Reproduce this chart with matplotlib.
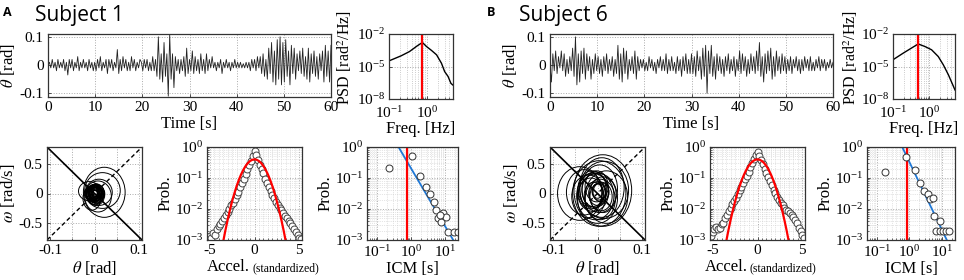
import numpy as np
import matplotlib
matplotlib.use("Agg")
import matplotlib.pyplot as plt
from matplotlib.patches import Ellipse
from matplotlib.ticker import FixedLocator, MultipleLocator, LogLocator, NullLocator, NullFormatter

plt.rcParams['font.family'] = ['Liberation Serif', 'DejaVu Serif']
plt.rcParams['mathtext.fontset'] = 'stix'
plt.rcParams['axes.unicode_minus'] = False

# ---------------- data ----------------
# sway angle, centi-radians, one value every 0.3 s
theta_s1 = [0, 1, -1, 2, -1, 1, -2, 2, -1, 1, -1, 2, -2, 1, -3.5, 2, -1, 2, -2, 1, -1, 3, -2, 1, -1, 2, -1, 1, -2, 2, -1, 1, -2,
            1, -2, 2, -1, 3, -2, 1, -1, 2, -3, 2, -1, 2, -2, 1, -1, 5.5, -3, 2, -2, 3, -1, 2, -2, 1, -2, 3, -1, 2, -2, 1, -1, 2,
            1, -2, 2, -1, 2, -2, 1, -2, 3, -2, 2, -4, 10, -5, 4, -6, 8, -4, 4, -11, 11, -5, 4, -8, 3, -2, 2, -3, 2, -2, 3, -4, 6, -3,
            2, -2, 5, -3, 3, -2, 2, -3, 4, -2, 2, -3, 4, -2, 2, -1, 3, -1, 1, -2, 1, -1, 2, -3, 1, -1, 2, -1, 1, -2, 1, -1, 2,
            -1, 1, -1, 1, -1, 0.5, -1, 1, -1, 1, -2, 2, -1, 2, -2, 3, -1, 3, -3, 4, -4, 2, -5, 6, -3, 8, -6, 5, -7, 9, -5, 10, -7, 8,
            -6, 9, -4, 5, -7, 7, -3, 6, -5, 4, -2, 5, -3, 6, -4, 3, -5, 6, -6, 4, -3, 5, -4, 3, -5, 4, -2, 5, -6, 7, -4, 5, -6, 7]
theta_s6 = [0, -6, 4, -2, 5, -3, 3, -1, 5, -2, 4, -4, 2, -3, 3, -2, 6, -4, 10, -7, 4, -6, 5, -3, 6, -5, 4, -2, 3, -5, 2, -3, 4,
            -2, 3, -3, 2, -4, 3, -2, 4, -3, 2, -2, 3, -4, 2, -3, 7, -5, 4, -6, 6, -3, 5, -5, 2, -2, 3, -3, 5, -5, 3, -2, 2, -1,
            2, -2, 1, -2, 3, -1, 2, -2, 1, -3, 2, -1, 3, -2, 2, -2, 4, -3, 2, -2, 3, -2, 1, -3, 3, -2, 2, -4, 3, -2, 4, -3, 2, -3,
            4, -3, 3, -4, 5, -2, 3, -5, 6, -4, 7, -10, 5, -3, 7, -4, 3, -5, 4, -2, 3, -3, 2, -4, 3, -2, 4, -3, 2, -2, 3, -4, 2,
            -2, 5, -3, 4, -2, 3, -4, 2, -3, 4, -2, 3, -3, 5, -2, 8, -4, 3, -6, 4, -3, 5, -2, 6, -5, 3, -4, 5, -2, 3, -3, 4, -2, 3,
            -3, 2, -2, 3, -3, 2, -1, 3, -2, 2, -3, 2, -2, 3, -1, 2, -2, 3, -2, 1, -2, 2, -1, 3, -2, 2, -1, 2, -2, 1, -1, 2, -1, 1]
dt = 0.3

# power spectral density
psd_f_s1 = [0.1, 0.21, 0.35, 0.56, 0.77, 0.99, 1.35, 1.83, 2.47, 3.0, 3.7, 4.4, 4.9]
psd_p_s1 = [3.3e-5, 9.7e-5, 2.4e-4, 8e-4, 1.65e-3, 7e-4, 3e-4, 1.2e-4, 2e-5, 3.4e-6, 1.2e-6, 2.8e-7, 2e-7]
psd_f_s6 = [0.1, 0.19, 0.32, 0.49, 0.75, 1.14, 1.74, 2.4, 3.3, 4.35, 5.0]
psd_p_s6 = [4.2e-5, 1.7e-4, 5e-4, 1.2e-3, 7e-4, 3.5e-4, 8.3e-5, 1.4e-5, 1.7e-6, 2e-7, 6.8e-8]
peak_f_s1 = 0.77
peak_f_s6 = 0.49

# phase portrait loops: centre (theta, omega) and half-axes
pp_tc_s1 = [0.000, 0.002, -0.002, 0.004, 0.000, -0.004, 0.003, 0.001, -0.001, 0.005, 0.000, 0.002,
            -0.003, 0.001, 0.006, -0.001, 0.004, 0.010, 0.018, 0.022, -0.012, -0.006, 0.008,
            0.001, -0.002, 0.003, 0.000, 0.002, -0.001, 0.004, 0.000]
pp_wc_s1 = [0.00, 0.01, -0.01, 0.00, 0.02, 0.00, -0.02, 0.00, 0.01, 0.01, -0.01, 0.00,
            0.02, -0.02, 0.03, 0.00, -0.03, 0.02, 0.05, 0.02, 0.04, -0.08, -0.05,
            0.00, 0.02, -0.01, 0.01, -0.02, 0.00, 0.01, -0.01]
pp_tr_s1 = [0.012, 0.016, 0.010, 0.018, 0.014, 0.015, 0.020, 0.008, 0.011, 0.013, 0.017, 0.021,
            0.009, 0.019, 0.012, 0.022, 0.016, 0.030, 0.040, 0.047, 0.024, 0.020, 0.030,
            0.006, 0.009, 0.013, 0.015, 0.011, 0.017, 0.007, 0.019]
pp_wr_s1 = [0.10, 0.14, 0.08, 0.16, 0.12, 0.11, 0.18, 0.06, 0.13, 0.09, 0.12, 0.15,
            0.10, 0.17, 0.08, 0.13, 0.14, 0.22, 0.30, 0.42, 0.16, 0.20, 0.26,
            0.05, 0.09, 0.11, 0.13, 0.07, 0.15, 0.10, 0.12]
pp_tc_s6 = [0.000, -0.005, 0.008, -0.010, 0.005, 0.012, -0.015, 0.000, 0.010, -0.020, 0.003, -0.008,
            0.015, -0.030, 0.006, -0.002, 0.020, -0.012, 0.004, 0.000, -0.040, 0.012, -0.005, 0.008]
pp_wc_s6 = [0.00, 0.05, -0.05, 0.02, 0.08, -0.02, 0.00, -0.08, 0.10, -0.05, 0.03, -0.03,
            0.06, 0.02, -0.10, 0.12, -0.06, 0.08, 0.00, 0.04, 0.00, 0.05, -0.04, 0.02]
pp_tr_s6 = [0.020, 0.030, 0.025, 0.035, 0.040, 0.030, 0.028, 0.045, 0.050, 0.038, 0.015, 0.022,
            0.055, 0.040, 0.034, 0.026, 0.048, 0.032, 0.060, 0.012, 0.050, 0.065, 0.042, 0.018]
pp_wr_s6 = [0.20, 0.28, 0.24, 0.32, 0.40, 0.30, 0.26, 0.42, 0.50, 0.36, 0.14, 0.22,
            0.48, 0.38, 0.34, 0.26, 0.44, 0.30, 0.55, 0.12, 0.45, 0.60, 0.40, 0.16]

# acceleration distribution (standardized), bins every 0.2 from -5.2 to 5.2
acc_bins = [-5.2, -5.0, -4.8, -4.6, -4.4, -4.2, -4.0, -3.8, -3.6, -3.4, -3.2, -3.0, -2.8, -2.6, -2.4, -2.2, -2.0,
            -1.8, -1.6, -1.4, -1.2, -1.0, -0.8, -0.6, -0.4, -0.2, 0.0, 0.2, 0.4, 0.6, 0.8, 1.0, 1.2, 1.4, 1.6,
            1.8, 2.0, 2.2, 2.4, 2.6, 2.8, 3.0, 3.2, 3.4, 3.6, 3.8, 4.0, 4.2, 4.4, 4.6, 4.8, 5.0, 5.2]
acc_p_s1 = [0.0011, 0.0013, 0.0012, 0.0017, 0.0015, 0.0022, 0.0028, 0.0033, 0.0042, 0.005, 0.0065, 0.008, 0.01,
            0.013, 0.016, 0.021, 0.028, 0.036, 0.05, 0.068, 0.09, 0.13, 0.19, 0.26, 0.36, 0.52, 0.75, 0.55, 0.38,
            0.27, 0.2, 0.14, 0.095, 0.07, 0.052, 0.038, 0.029, 0.022, 0.017, 0.013, 0.011, 0.009, 0.0075, 0.006,
            0.005, 0.0042, 0.0035, 0.0028, 0.0022, 0.0018, 0.0014, 0.0012, 0.0011]
acc_p_s6 = [0.0013, 0.0018, 0.0023, 0.0027, 0.0022, 0.0025, 0.0032, 0.0035, 0.005, 0.0065, 0.0085, 0.011, 0.014,
            0.018, 0.023, 0.03, 0.04, 0.052, 0.068, 0.09, 0.12, 0.16, 0.22, 0.3, 0.4, 0.55, 0.7, 0.5, 0.38, 0.28,
            0.2, 0.15, 0.11, 0.08, 0.058, 0.042, 0.032, 0.025, 0.02, 0.016, 0.013, 0.011, 0.0095, 0.0085, 0.0075,
            0.0065, 0.0055, 0.0045, 0.0035, 0.0025, 0.002, 0.0015, 0.0012]
# standard normal density (half, mirrored)
gauss_x = [0.0, 0.25, 0.5, 0.75, 1.0, 1.25, 1.5, 1.75, 2.0, 2.25, 2.5, 2.75, 3.0, 3.25, 3.5, 3.75]
gauss_p = [0.3989, 0.3867, 0.3521, 0.3011, 0.2420, 0.1826, 0.1295, 0.0863, 0.0540, 0.0317, 0.0175,
           0.0091, 0.00443, 0.00203, 0.00087, 0.00035]

# inter-control-moment distribution
icm_t_s1 = [0.22, 1.09, 1.93, 2.8, 3.6, 4.8, 5.7, 8.9, 6.6, 7.8, 11.0, 7.2, 12.3, 19.0, 25.0]
icm_p_s1 = [0.21, 0.5, 0.12, 0.051, 0.03, 0.017, 0.0091, 0.0076, 0.0053, 0.0038, 0.0057, 0.0065, 0.0018, 0.0018, 0.0018]
icm_t_s6 = [0.18, 0.79, 1.5, 2.1, 2.9, 3.7, 4.4, 5.2, 5.7, 8.4, 6.6, 8.4, 10.6, 13.5, 16.3]
icm_p_s6 = [0.16, 0.48, 0.18, 0.069, 0.037, 0.031, 0.021, 0.023, 0.0058, 0.004, 0.002, 0.002, 0.002, 0.002, 0.002]
icm_fit_t_s1 = [0.43, 18.0]
icm_fit_t_s6 = [0.6, 14.0]
icm_fit_p = [1.0, 1e-3]
icm_red_s1 = 0.75
icm_red_s6 = 0.85

# ---------------- figure ----------------
W, H = 964, 280
fig = plt.figure(figsize=(W / 100, H / 100), dpi=100)


def box(l, t, r, b):
    return [l / W, 1 - b / H, (r - l) / W, (b - t) / H]


def style(ax):
    for s in ax.spines.values():
        s.set_color('#333333')
        s.set_linewidth(0.9)
    ax.tick_params(which='both', direction='in', labelsize=11, pad=3, color='#333333')
    ax.tick_params(which='major', length=2.5, width=0.6)
    ax.tick_params(which='minor', length=1.5, width=0.5)
    ax.set_axisbelow(True)


def grid(ax, which='major', axis='both'):
    ax.grid(True, which=which, axis=axis, linestyle=':', color='#aaaaaa', linewidth=0.7)


def time_panel(ax, theta):
    th = np.array(theta) / 100.0
    t = np.arange(len(th)) * dt
    ax.plot(t, th, color='#222222', lw=0.6)
    ax.set_xlim(0, 60)
    ax.set_ylim(-0.113, 0.11)
    ax.set_xticks([0, 10, 20, 30, 40, 50, 60])
    ax.set_yticks([-0.1, 0, 0.1])
    ax.set_yticklabels(['-0.1', '0', '0.1'])
    style(ax)
    grid(ax)
    ax.set_xlabel('Time [s]', fontsize=12, labelpad=1)
    ax.set_ylabel(r'$\theta$ [rad]', fontsize=12, labelpad=2)


def psd_panel(ax, f, p, fpk):
    ax.loglog(f, p, color='black', lw=1.0)
    ax.axvline(fpk, color='red', lw=1.6)
    ax.set_xlim(0.1, 5)
    ax.set_ylim(1e-8, 1e-2)
    ax.yaxis.set_major_locator(FixedLocator([1e-8, 1e-5, 1e-2]))
    ax.yaxis.set_minor_locator(NullLocator())
    ax.xaxis.set_major_locator(FixedLocator([0.1, 1]))
    ax.xaxis.set_minor_locator(LogLocator(base=10, subs=np.arange(2, 10), numticks=10))
    ax.xaxis.set_minor_formatter(NullFormatter())
    style(ax)
    ax.tick_params(axis='x', which='major', pad=4.5)
    grid(ax, 'major')
    ax.grid(True, which='minor', axis='x', linestyle=':', color='#bbbbbb', linewidth=0.6)
    ax.set_xlabel('Freq. [Hz]', fontsize=12, labelpad=0)
    ax.set_ylabel(r'PSD [rad$^2$/Hz]', fontsize=11.5)
    ax.yaxis.set_label_coords(-0.54, 0.64)


def phase_panel(ax, tc, wc, tr, wr):
    for a, b, c, d in zip(tc, wc, tr, wr):
        ax.add_patch(Ellipse((a, b), 2 * c, 2 * d, fill=False, edgecolor='black', lw=0.7))
    ax.plot([0, 1], [1, 0], transform=ax.transAxes, color='black', lw=1.2)
    ax.plot([0, 1], [0, 1], transform=ax.transAxes, color='black', lw=1.0, ls=(0, (3, 2)))
    ax.set_xlim(-0.107, 0.107)
    ax.set_ylim(-0.78, 0.78)
    ax.set_xticks([-0.1, 0, 0.1])
    ax.set_xticklabels(['-0.1', '0', '0.1'])
    ax.set_yticks([-0.5, 0, 0.5])
    ax.set_yticklabels(['-0.5', '0', '0.5'])
    ax.xaxis.set_minor_locator(FixedLocator([-0.05, 0.05]))
    style(ax)
    grid(ax, 'both')
    ax.set_xlabel(r'$\theta$ [rad]', fontsize=12, labelpad=1)
    ax.set_ylabel(r'$\omega$ [rad/s]', fontsize=12, labelpad=1)


def acc_panel(ax, p):
    gx = np.array(gauss_x)
    gp = np.array(gauss_p)
    ax.semilogy(acc_bins, p, 'o', ms=5, mfc='white', mec='#444444', mew=0.7)
    ax.semilogy(np.concatenate([-gx[::-1], gx[1:]]), np.concatenate([gp[::-1], gp[1:]]), color='red', lw=1.6)
    ax.set_xlim(-5.3, 5.3)
    ax.set_ylim(1e-3, 1)
    ax.set_xticks([-5, 0, 5])
    ax.set_xticklabels(['-5', '0', '5'])
    ax.xaxis.set_minor_locator(MultipleLocator(0.5))
    ax.yaxis.set_major_locator(FixedLocator([1e-3, 1e-2, 1e-1, 1]))
    ax.yaxis.set_minor_locator(LogLocator(base=10, subs=np.arange(2, 10), numticks=10))
    ax.yaxis.set_minor_formatter(NullFormatter())
    style(ax)
    grid(ax, 'major')
    ax.grid(True, which='minor', linestyle=':', color='#cccccc', linewidth=0.5)
    ax.set_ylabel('Prob.', fontsize=12, labelpad=1)


def icm_panel(ax, t, p, fit_t, red):
    ax.loglog(fit_t, icm_fit_p, color='#1f78d6', lw=1.3)
    ax.axvline(red, color='red', lw=1.6)
    ax.loglog(t, p, 'o', ms=5, mfc='white', mec='#333333', mew=0.7)
    ax.set_xlim(0.05, 25)
    ax.set_ylim(1e-3, 1)
    ax.xaxis.set_major_locator(FixedLocator([0.1, 1, 10]))
    ax.yaxis.set_major_locator(FixedLocator([1e-3, 1e-2, 1e-1, 1]))
    for a in (ax.xaxis, ax.yaxis):
        a.set_minor_locator(LogLocator(base=10, subs=np.arange(2, 10), numticks=10))
        a.set_minor_formatter(NullFormatter())
    style(ax)
    grid(ax, 'major')
    ax.grid(True, which='minor', linestyle=':', color='#cccccc', linewidth=0.5)
    ax.set_xlabel('ICM [s]', fontsize=12, labelpad=1)
    ax.set_ylabel('Prob.', fontsize=12, labelpad=1)


def accel_label(x_px):
    fig.text(x_px / W, 1 - 271 / H, 'Accel.', fontsize=12, ha='right', va='baseline')
    fig.text((x_px + 2) / W, 1 - 271 / H, '(standardized)', fontsize=8.5, ha='left', va='baseline')


# subject 1
time_panel(fig.add_axes(box(48, 34, 331, 97)), theta_s1)
psd_panel(fig.add_axes(box(389, 34, 453, 99)), psd_f_s1, psd_p_s1, peak_f_s1)
phase_panel(fig.add_axes(box(47, 147, 142, 240)), pp_tc_s1, pp_wc_s1, pp_tr_s1, pp_wr_s1)
acc_panel(fig.add_axes(box(207, 147, 302, 240)), acc_p_s1)
icm_panel(fig.add_axes(box(367, 147, 458, 240)), icm_t_s1, icm_p_s1, icm_fit_t_s1, icm_red_s1)
accel_label(250)

# subject 6
time_panel(fig.add_axes(box(550, 34, 833, 97)), theta_s6)
psd_panel(fig.add_axes(box(893, 34, 955, 99)), psd_f_s6, psd_p_s6, peak_f_s6)
phase_panel(fig.add_axes(box(550, 147, 645, 240)), pp_tc_s6, pp_wc_s6, pp_tr_s6, pp_wr_s6)
acc_panel(fig.add_axes(box(710, 147, 805, 240)), acc_p_s6)
icm_panel(fig.add_axes(box(867, 147, 955, 240)), icm_t_s6, icm_p_s6, icm_fit_t_s6, icm_red_s6)
accel_label(748)

# panel headings
fig.text(3 / W, 1 - 16 / H, 'A', fontsize=9, fontweight='bold', family='Open Sans', va='baseline')
fig.text(35 / W, 1 - 21 / H, 'Subject 1', fontsize=15, family='Open Sans', va='baseline')
fig.text(487 / W, 1 - 16 / H, 'B', fontsize=9, fontweight='bold', family='Open Sans', va='baseline')
fig.text(519 / W, 1 - 21 / H, 'Subject 6', fontsize=15, family='Open Sans', va='baseline')

fig.savefig('out.png', dpi=100)
